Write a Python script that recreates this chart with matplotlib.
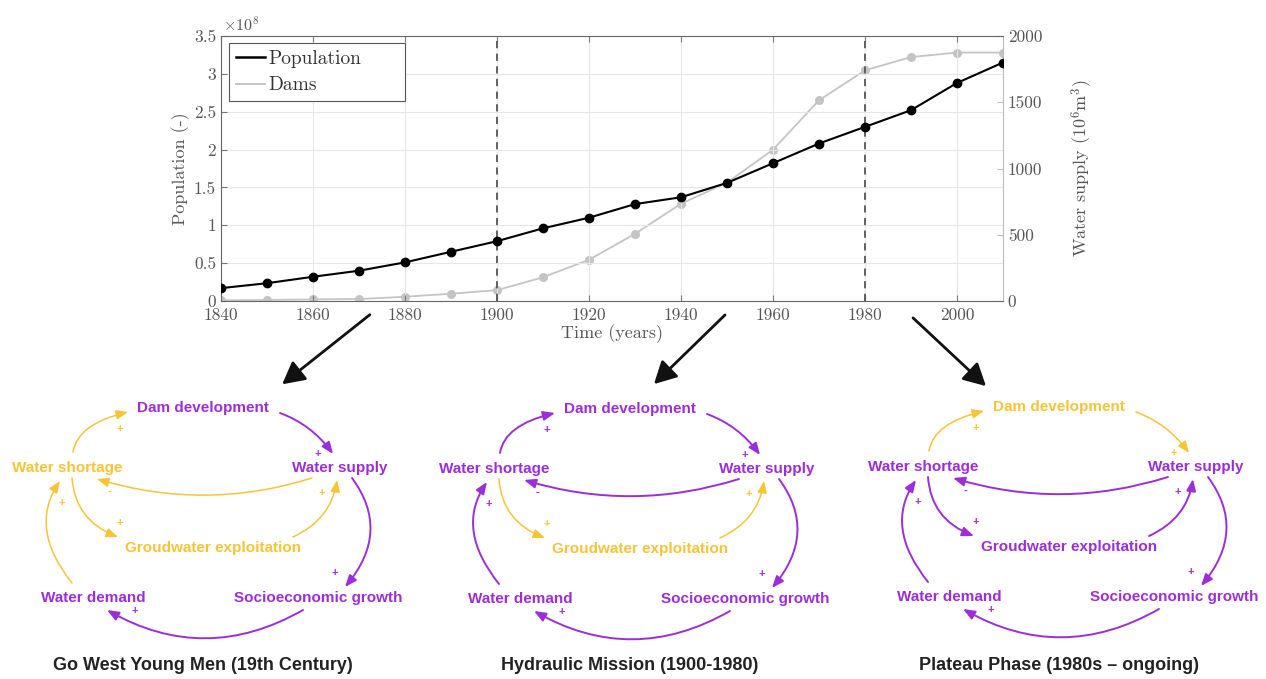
import matplotlib.pyplot as plt
import numpy as np
from matplotlib.patches import FancyArrowPatch
from matplotlib.path import Path
from matplotlib.lines import Line2D
from matplotlib.ticker import FuncFormatter

plt.rcParams['mathtext.fontset'] = 'cm'
plt.rcParams['axes.unicode_minus'] = False

# data
years = [1840, 1850, 1860, 1870, 1880, 1890, 1900, 1910, 1920, 1930,
         1940, 1950, 1960, 1970, 1980, 1990, 2000, 2010]
population = [0.17, 0.235, 0.32, 0.40, 0.51, 0.65, 0.79, 0.96, 1.10, 1.28,
              1.37, 1.56, 1.82, 2.08, 2.30, 2.52, 2.88, 3.15]  # x 1e8
dams = [5, 8, 12, 15, 32, 55, 82, 179, 311, 507,
        734, 893, 1142, 1515, 1741, 1841, 1875, 1875]  # 10^6 m3
phase_breaks = [1900, 1980]
phase_titles = ["Go West Young Men (19th Century)",
                "Hydraulic Mission (1900-1980)",
                "Plateau Phase (1980s \u2013 ongoing)"]

PURPLE = '#9b2ed8'
YELLOW = '#f6c437'
TXT = '#555555'

fig = plt.figure(figsize=(12.66, 6.79), dpi=100)

# overlay axes in pixel coordinates for the loop diagrams
ov = fig.add_axes([0, 0, 1, 1])
ov.set_xlim(0, 1266)
ov.set_ylim(679, 0)
ov.axis('off')

# ---- top chart ----
ax = fig.add_axes([221 / 1266, 1 - 301 / 679, 782 / 1266, 265 / 679])
ax2 = ax.twinx()
ax.set_zorder(ax2.get_zorder() + 1)
ax.patch.set_visible(False)

cm = dict(family='cmr10')
ax2.plot(years, dams, color='#c4c4c4', lw=1.3, marker='o', ms=5.5, zorder=2)
ax.plot(years, population, color='black', lw=1.5, marker='o', ms=6, zorder=3)
for yr in phase_breaks:
    ax.axvline(yr, color='#555555', ls=(0, (4, 3)), lw=1.3, zorder=2)

ax.set_xlim(1840, 2010)
ax.set_ylim(0, 3.5)
ax2.set_ylim(0, 2000)
ax.set_xticks(np.arange(1840, 2001, 20))
ax.set_yticks(np.arange(0, 3.51, 0.5))
ax2.set_yticks(np.arange(0, 2001, 500))
ax.yaxis.set_major_formatter(FuncFormatter(lambda v, p: '%g' % v))
ax.grid(True, color='#e6e6e6', lw=0.8)
ax.set_axisbelow(True)
ax.tick_params(direction='in', top=True, length=4, colors='#777777',
               labelcolor=TXT, labelsize=12.5)
ax.tick_params(axis='x', pad=5)
ax2.tick_params(direction='in', length=4, colors='#bbbbbb',
                labelcolor=TXT, labelsize=12.5)
for lab in ax.get_xticklabels() + ax.get_yticklabels() + ax2.get_yticklabels():
    lab.set_family('cmr10')
for s in ['left', 'bottom', 'top']:
    ax.spines[s].set_color('#666666')
ax.spines['right'].set_visible(False)
for s in ['left', 'bottom', 'top']:
    ax2.spines[s].set_visible(False)
ax2.spines['right'].set_color('#bbbbbb')

ax.text(0.003, 1.008, r'$\times10^8$', transform=ax.transAxes, ha='left',
        va='bottom', fontsize=11.5, color=TXT)
ax.set_xlabel('Time (years)', fontsize=13, color=TXT, labelpad=1, **cm)
ax.set_ylabel('Population (-)', fontsize=13, color=TXT, labelpad=3, **cm)
ax2.set_ylabel(r'Water supply (10$^6$m$^3$)', fontsize=13, color=TXT,
               labelpad=20, **cm)

handles = [Line2D([], [], color='black', lw=1.8),
           Line2D([], [], color='#c4c4c4', lw=1.4)]
leg = ax.legend(handles, ['Population', 'Dams'], loc='upper left',
                bbox_to_anchor=(0.0102, 0.3, 0.225, 0.674), mode='expand',
                borderaxespad=0, prop=dict(family='cmr10', size=14),
                fancybox=False, edgecolor='#555555', framealpha=1,
                handlelength=1.5, handletextpad=0.2, borderpad=0.35,
                labelspacing=0.45)
leg.get_frame().set_linewidth(0.8)
for t in leg.get_texts():
    t.set_color('#333333')

# ---- black arrows to the diagrams ----
for (x0, y0), (x1, y1) in [((372, 313), (280, 386)),
                           ((727, 313), (652, 386)),
                           ((911, 316), (988, 388))]:
    ov.add_patch(FancyArrowPatch((x0, y0), (x1, y1),
                                 arrowstyle='-|>,head_length=0.75,head_width=0.4',
                                 mutation_scale=18, color='#111111', lw=2))

# ---- causal loop diagrams ----
nodes = {'dam': ('Dam development', 203, 408),
         'short': ('Water shortage', 67, 468),
         'supply': ('Water supply', 340, 468),
         'gw': ('Groudwater exploitation', 213, 548),
         'demand': ('Water demand', 93, 598),
         'socio': ('Socioeconomic growth', 318, 598)}

# start, end, point the curve passes through, sign position, sign
edges = [((73, 452), (128, 412), (89, 428), (120, 429), '+'),
         ((280, 413), (333, 454), (309, 429), (318, 454), '+'),
         ((312, 478), (97, 479), (205, 495), (110, 492), '-'),
         ((72, 478), (118, 537), (85, 514), (120, 523), '+'),
         ((293, 537), (337, 480), (323, 514), (322, 493), '+'),
         ((352, 478), (345, 587), (370, 532), (335, 573), '+'),
         ((303, 610), (107, 610), (205, 638), (135, 611), '+'),
         ((72, 583), (60, 481), (47, 530), (62, 503), '+')]

panels = [(0, 0, {'short', 'gw'}, {0, 2, 3, 4, 7}),
          (427, 1, {'gw'}, {3, 4}),
          (856, -1, {'dam'}, {0, 1})]


def bezier_arrow(p0, p2, m, color, lw):
    c = (2 * m[0] - 0.5 * (p0[0] + p2[0]), 2 * m[1] - 0.5 * (p0[1] + p2[1]))
    path = Path([p0, c, p2], [Path.MOVETO, Path.CURVE3, Path.CURVE3])
    ov.add_patch(FancyArrowPatch(path=path, color=color, lw=lw,
                                 arrowstyle='-|>,head_length=7,head_width=2.8',
                                 mutation_scale=1))


for (dx, dy, ynodes, yedges), title in zip(panels, phase_titles):
    for key, (label, x, y) in nodes.items():
        ov.text(x + dx, y + dy, label, ha='center', va='center', fontsize=11,
                fontweight='bold', family='Liberation Sans',
                color=YELLOW if key in ynodes else PURPLE)
    for i, (p0, p2, m, sp, sign) in enumerate(edges):
        col = YELLOW if i in yedges else PURPLE
        lw = 1.1 if i in yedges else 1.4
        sh = lambda p: (p[0] + dx, p[1] + dy)
        bezier_arrow(sh(p0), sh(p2), sh(m), col, lw)
        ov.text(sp[0] + dx, sp[1] + dy, sign, ha='center', va='center',
                fontsize=8, fontweight='bold', color=col,
                family='Liberation Sans')
    ov.text(203 + dx, 665, title, ha='center', va='center', fontsize=13,
            fontweight='bold', family='Liberation Sans', color='#222222')

fig.savefig('out.png', dpi=100)
